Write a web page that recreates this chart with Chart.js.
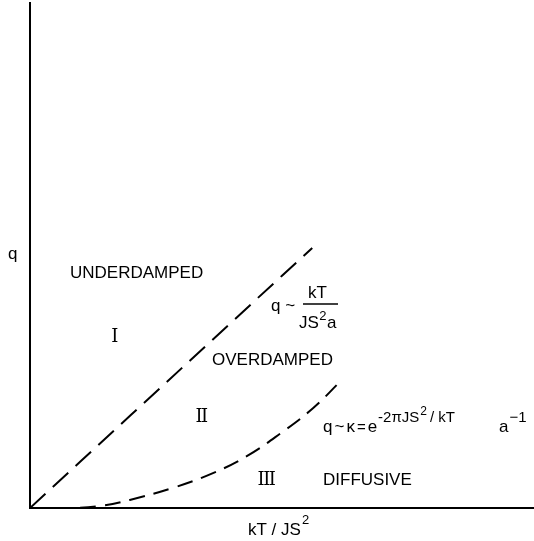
<!DOCTYPE html>
<html lang="en">
<head>
  <meta charset="UTF-8">
  <title>Damping regimes</title>
  <script src="https://cdn.jsdelivr.net/npm/chart.js"></script>
  <style>
    body { margin: 0; background: #fff; }
  </style>
</head>
<body>
  <canvas id="regimeChart" width="534" height="541"></canvas>
  <script>
    // boundary I / II  : q ~ kT / (JS^2 a)
    const kTUnder = [0, 10, 20, 30, 40, 50, 56];
    const qUnder = [0, 9.2, 18.4, 27.6, 36.8, 46, 51.5];

    // boundary II / III : q ~ kappa = exp(-2 pi JS^2 / kT) / a
    const kTDiff = [0, 7.9, 13.9, 19.8, 28.4, 36.3, 43.1, 49.6, 56.2, 61.5];
    const qDiff = [0, 0, 0.4, 1.6, 4.0, 6.9, 10.3, 14.7, 19.8, 25.0];

    const FONT = "'Liberation Sans', Arial, sans-serif";
    const ROMAN = "'DejaVu Serif', 'Liberation Serif', serif";

    // run of text pieces: [text, size, dy, extra gap after]
    function run(ctx, x, y, parts) {
      parts.forEach(([t, size, dy, gap]) => {
        ctx.font = size + 'px ' + FONT;
        ctx.fillText(t, x, y + (dy || 0));
        x += ctx.measureText(t).width + (gap || 0);
      });
    }

    const labelsPlugin = {
      id: 'labels',
      afterDraw(chart) {
        const ctx = chart.ctx;
        ctx.save();
        ctx.fillStyle = '#000';
        ctx.strokeStyle = '#000';
        ctx.textAlign = 'left';
        ctx.textBaseline = 'alphabetic';

        // axis titles
        run(ctx, 8, 259, [['q', 17]]);
        run(ctx, 248, 535, [['kT / JS', 17, 0, 1], ['2', 13, -11]]);

        // regions
        run(ctx, 70, 278, [['UNDERDAMPED', 17]]);
        run(ctx, 212, 365, [['OVERDAMPED', 17]]);
        run(ctx, 323, 485, [['DIFFUSIVE', 17]]);

        // roman numerals, serifs joined into bars
        ctx.textAlign = 'center';
        ctx.textBaseline = 'middle';
        ctx.font = '18px ' + ROMAN;
        ctx.letterSpacing = '-1.5px';
        ctx.fillText('I', 114, 337);
        ctx.fillText('II', 201, 417);
        ctx.fillText('III', 266, 480);
        ctx.letterSpacing = '0px';
        ctx.textAlign = 'left';
        ctx.textBaseline = 'alphabetic';

        // q ~ kT / JS^2 a
        run(ctx, 271, 311, [['q ~', 17]]);
        run(ctx, 308, 298, [['kT', 17]]);
        ctx.lineWidth = 1.5;
        ctx.beginPath();
        ctx.moveTo(303, 304);
        ctx.lineTo(338, 304);
        ctx.stroke();
        run(ctx, 299, 328, [['JS', 17, 0, 0.5], ['2', 13, -8, 0.5], ['a', 17]]);

        // q ~ kappa = e^(-2 pi JS^2/kT) a^-1
        run(ctx, 323, 432, [
          ['q', 17, 0, 2], ['~', 17, 0, 2], ['κ', 17, 0, 2], ['=', 15, 0, 2], ['e', 17, 0, 1],
          ['-2πJS', 15, -10, 1], ['2', 12, -17, 3], ['/ kT', 15, -10]
        ]);
        run(ctx, 499, 432, [['a', 17, 0, 1], ['−1', 15, -10]]);

        ctx.restore();
      }
    };

    const ctx = document.getElementById('regimeChart').getContext('2d');
    new Chart(ctx, {
      type: 'scatter',
      data: {
        datasets: [
          {
            label: 'q ~ kT / JS²a',
            data: kTUnder.map((x, i) => ({ x: x, y: qUnder[i] })),
            showLine: true,
            borderColor: '#000',
            borderWidth: 2,
            borderDash: [21, 10],
            pointRadius: 0,
            tension: 0
          },
          {
            label: 'q ~ κ',
            data: kTDiff.map((x, i) => ({ x: x, y: qDiff[i] })),
            showLine: true,
            borderColor: '#000',
            borderWidth: 2,
            borderDash: [16, 9],
            pointRadius: 0,
            tension: 0.4
          }
        ]
      },
      options: {
        responsive: false,
        animation: false,
        layout: {
          padding: { left: 30, right: 0, top: 3, bottom: 33 }
        },
        plugins: {
          legend: { display: false },
          tooltip: { enabled: false }
        },
        scales: {
          x: {
            type: 'linear',
            min: 0,
            max: 100,
            grid: { display: false, drawTicks: false },
            border: { display: true, color: '#000', width: 2 },
            ticks: { display: false }
          },
          y: {
            type: 'linear',
            min: 0,
            max: 100,
            grid: { display: false, drawTicks: false },
            border: { display: true, color: '#000', width: 2 },
            ticks: { display: false }
          }
        }
      },
      plugins: [labelsPlugin]
    });
  </script>
</body>
</html>
